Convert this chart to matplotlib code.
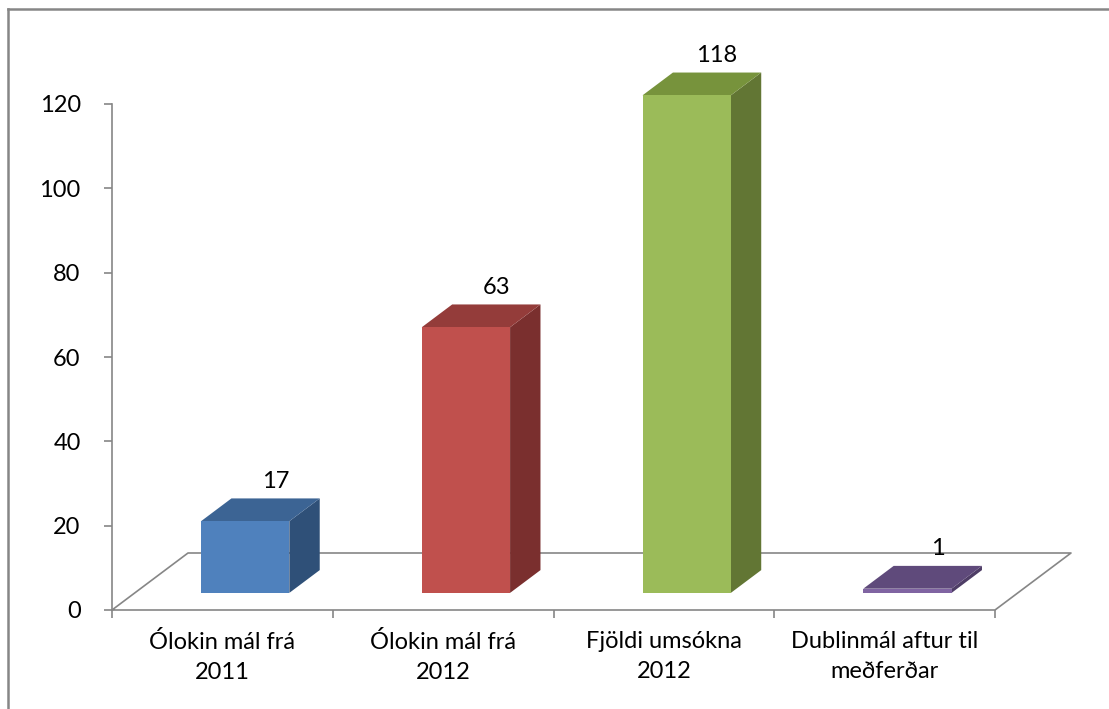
import numpy as np
import matplotlib
matplotlib.use('Agg')
import matplotlib.pyplot as plt
from matplotlib.patches import Polygon

# data
categories = ['Ólokin mál frá\n2011', 'Ólokin mál frá\n2012', 'Fjöldi umsókna\n2012', 'Dublinmál aftur til\nmeðferðar']
values = [17, 63, 118, 1]
front_cols = ['#4F81BD', '#C0504D', '#9BBB59', '#8064A2']
top_cols = ['#3C6494', '#943C3A', '#77933C', '#5F4A7B']
side_cols = ['#2F5078', '#7A2F2E', '#627634', '#4E3D66']
yticks = [0, 20, 40, 60, 80, 100, 120]

plt.rcParams['font.family'] = ['Lato', 'DejaVu Sans']
fs = 17
axcol = '#868686'

W, H = 1109, 709
fig = plt.figure(figsize=(W / 100, H / 100), dpi=100)
# axes: x from 112px to 995px, value 0 at y=610px, 120 at y=104px
ax = fig.add_axes([112 / W, (H - 610) / H, 883 / W, 506 / H])
ax.set_xlim(0, 4)
ax.set_ylim(0, 120)

# depth of the floor in data units
dx = 76 / (883 / 4)
dy = 57 / (506 / 120)
f0, f1 = 0.3, 0.7   # bar depth range
bw = 0.4

# floor outline
fx = [0, 4, 4 + dx, dx, 0]
fy = [0, 0, dy, dy, 0]
ax.plot(fx, fy, color=axcol, lw=1.2, clip_on=False, zorder=1)

for i, v in enumerate(values):
    x0 = i + 0.5 - bw / 2
    x1 = i + 0.5 + bw / 2
    ax0, ay0 = f0 * dx, f0 * dy
    bx0, by0 = f1 * dx, f1 * dy
    front = [(x0 + ax0, ay0), (x1 + ax0, ay0), (x1 + ax0, ay0 + v), (x0 + ax0, ay0 + v)]
    top = [(x0 + ax0, ay0 + v), (x1 + ax0, ay0 + v), (x1 + bx0, by0 + v), (x0 + bx0, by0 + v)]
    side = [(x1 + ax0, ay0), (x1 + bx0, by0), (x1 + bx0, by0 + v), (x1 + ax0, ay0 + v)]
    ax.add_patch(Polygon(side, closed=True, facecolor=side_cols[i], edgecolor='none', clip_on=False, zorder=3))
    ax.add_patch(Polygon(top, closed=True, facecolor=top_cols[i], edgecolor='none', clip_on=False, zorder=3))
    ax.add_patch(Polygon(front, closed=True, facecolor=front_cols[i], edgecolor='none', clip_on=False, zorder=4))
    ax.annotate(str(v), xy=(i + 0.5 + bx0, by0 + v), xytext=(0, 12.5), textcoords='offset points',
                ha='center', va='center', fontsize=fs, annotation_clip=False, zorder=5)

for s in ['top', 'right', 'bottom']:
    ax.spines[s].set_visible(False)
ax.spines['left'].set_color(axcol)
ax.spines['left'].set_linewidth(1.2)

ax.set_yticks(yticks)
ax.tick_params(axis='y', direction='out', length=5.5, width=1.2, color=axcol, labelsize=fs, pad=17)

ax.set_xticks([0.5, 1.5, 2.5, 3.5])
ax.set_xticklabels(categories, linespacing=1.55)
ax.set_xticks([0, 1, 2, 3, 4], minor=True)
ax.tick_params(axis='x', which='major', length=0, labelsize=fs, pad=15)
ax.tick_params(axis='x', which='minor', direction='out', length=5.5, width=1.2, color=axcol)
ax.patch.set_visible(False)

# chart area border (top and left visible)
fig.add_artist(plt.Line2D([8 / W, 1.0], [1 - 9 / H, 1 - 9 / H], color=axcol, lw=1.8))
fig.add_artist(plt.Line2D([8 / W, 8 / W], [0, 1 - 9 / H], color=axcol, lw=1.8))

fig.savefig('out.png', dpi=100)
